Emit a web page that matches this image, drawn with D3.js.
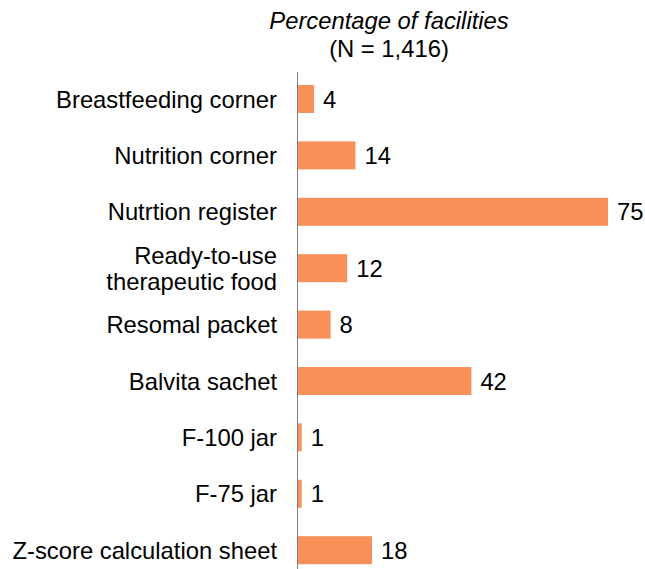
<!DOCTYPE html>
<html lang="en">
<head>
    <meta charset="UTF-8">
    <title>Percentage of facilities</title>
    <script src="https://d3js.org/d3.v7.min.js"></script>
    <style>
        body { margin: 0; background: #fff; }
        svg { display: block; font-family: "Liberation Sans", Arial, sans-serif; }
    </style>
</head>
<body>
    <svg id="chart" width="645" height="569"></svg>

    <script>
        // Data
        const categories = [
            "Breastfeeding corner",
            "Nutrition corner",
            "Nutrtion register",
            "Ready-to-use\ntherapeutic food",
            "Resomal packet",
            "Balvita sachet",
            "F-100 jar",
            "F-75 jar",
            "Z-score calculation sheet"
        ];
        const values = [4, 14, 75, 12, 8, 42, 1, 1, 18];
        const titleLines = ["Percentage of facilities", "(N = 1,416)"];

        const svg = d3.select("#chart");

        const x = d3.scaleLinear()
            .domain([0, 75])
            .range([297.5, 608]);

        const y = d3.scaleBand()
            .domain(categories)
            .range([70.8, 578.4])
            .padding(0);

        const barH = 28;
        const fontSize = 23.8;

        // title
        svg.append("text")
            .attr("x", 389)
            .attr("y", 29)
            .attr("text-anchor", "middle")
            .attr("font-size", fontSize)
            .attr("font-style", "italic")
            .text(titleLines[0]);
        svg.append("text")
            .attr("x", 389)
            .attr("y", 57)
            .attr("text-anchor", "middle")
            .attr("font-size", fontSize)
            .text(titleLines[1]);

        const rows = categories.map((c, i) => ({ cat: c, val: values[i] }));

        // bars
        svg.selectAll("rect.bar")
            .data(rows)
            .enter().append("rect")
            .attr("class", "bar")
            .attr("x", x(0))
            .attr("y", d => y(d.cat) + y.bandwidth() / 2 - barH / 2)
            .attr("width", d => x(d.val) - x(0))
            .attr("height", barH)
            .attr("fill", "#f79159");

        // value labels
        svg.selectAll("text.val")
            .data(rows)
            .enter().append("text")
            .attr("class", "val")
            .attr("x", d => x(d.val) + 9)
            .attr("y", d => y(d.cat) + y.bandwidth() / 2)
            .attr("dy", "0.36em")
            .attr("font-size", fontSize)
            .attr("fill", "#000")
            .text(d => d.val);

        // category labels (may span two lines)
        const labels = svg.selectAll("text.cat")
            .data(rows)
            .enter().append("text")
            .attr("class", "cat")
            .attr("text-anchor", "end")
            .attr("font-size", fontSize)
            .attr("fill", "#000");

        labels.each(function(d) {
            const lines = d.cat.split("\n");
            const cy = y(d.cat) + y.bandwidth() / 2;
            const lh = 26;
            lines.forEach((ln, j) => {
                d3.select(this).append("tspan")
                    .attr("x", 277)
                    .attr("y", cy + (j - (lines.length - 1) / 2) * lh)
                    .attr("dy", "0.36em")
                    .text(ln);
            });
        });

        // vertical axis line
        svg.append("line")
            .attr("x1", x(0))
            .attr("x2", x(0))
            .attr("y1", 72)
            .attr("y2", 569)
            .attr("stroke", "#7f7f7f")
            .attr("stroke-width", 1);
    </script>
</body>
</html>
